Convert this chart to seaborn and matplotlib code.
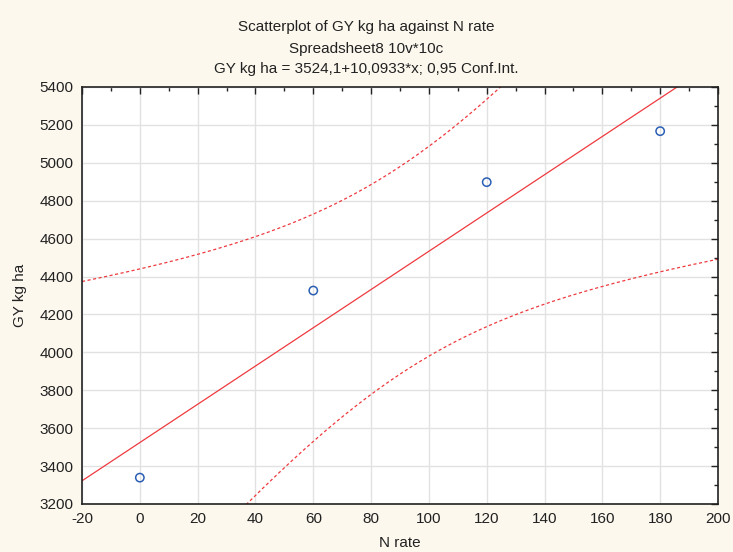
import numpy as np
import pandas as pd
import seaborn as sns
import matplotlib.pyplot as plt
from matplotlib.ticker import MultipleLocator

# Datos
n_rate = [0, 60, 120, 180]
gy_kg_ha = [3339, 4326, 4898, 5167]
x_ticks = [-20, 0, 20, 40, 60, 80, 100, 120, 140, 160, 180, 200]
y_ticks = [3200, 3400, 3600, 3800, 4000, 4200, 4400, 4600, 4800, 5000, 5200, 5400]
t_crit = 4.302653  # t(0.975, df=2)
titles = ["Scatterplot of GY kg ha against N rate",
          "Spreadsheet8 10v*10c",
          "GY kg ha = 3524,1+10,0933*x; 0,95 Conf.Int."]

df = pd.DataFrame({"N rate": n_rate, "GY kg ha": gy_kg_ha})

# Ajuste lineal y bandas de confianza
x = np.array(n_rate, dtype=float)
y = np.array(gy_kg_ha, dtype=float)
b, a = np.polyfit(x, y, 1)
resid = y - (a + b * x)
s = np.sqrt(np.sum(resid ** 2) / (len(x) - 2))
sxx = np.sum((x - x.mean()) ** 2)
xs = np.linspace(x_ticks[0], x_ticks[-1], 300)
fit = a + b * xs
se = s * np.sqrt(1 / len(x) + (xs - x.mean()) ** 2 / sxx)
bands = pd.DataFrame({"x": xs, "fit": fit, "lo": fit - t_crit * se, "hi": fit + t_crit * se})

sns.set_style("white")
plt.rcParams["font.family"] = ["Liberation Sans", "DejaVu Sans"]
plt.rcParams["font.size"] = 11
plt.rcParams["axes.unicode_minus"] = False

fig = plt.figure(figsize=(7.33, 5.52), dpi=100, facecolor="#fcf8ee")
ax = fig.add_axes([0.1119, 0.087, 0.8676, 0.7554])
ax.set_facecolor("white")

red = "#ee3a3f"
sns.lineplot(data=bands, x="x", y="fit", ax=ax, color=red, lw=0.9)
sns.lineplot(data=bands, x="x", y="lo", ax=ax, color=red, lw=0.9, linestyle=(0, (2.5, 2)))
sns.lineplot(data=bands, x="x", y="hi", ax=ax, color=red, lw=0.9, linestyle=(0, (2.5, 2)))
sns.scatterplot(data=df, x="N rate", y="GY kg ha", ax=ax, s=36, marker="o",
                facecolor="none", edgecolor="#2b5fb4", linewidth=1.1, zorder=5)

ax.set_xlim(x_ticks[0], x_ticks[-1])
ax.set_ylim(y_ticks[0], y_ticks[-1])
ax.set_xticks(x_ticks)
ax.set_yticks(y_ticks)
ax.xaxis.set_minor_locator(MultipleLocator(10))
ax.yaxis.set_minor_locator(MultipleLocator(100))
ax.grid(True, which="major", color="#e2e2e2", lw=1)
ax.set_axisbelow(True)
ax.tick_params(which="both", direction="in", top=True, right=True, color="#222222",
               labelsize=11, labelcolor="#222222")
ax.tick_params(which="major", length=5, width=1, pad=6)
ax.tick_params(which="minor", length=3, width=1)
for sp in ax.spines.values():
    sp.set_color("#222222")
    sp.set_linewidth(1.2)

ax.set_xlabel("N rate", fontsize=11, color="#222222", va="center")
ax.set_ylabel("GY kg ha", fontsize=11, color="#222222", va="center")
ax.xaxis.set_label_coords(0.5, -0.0935)
ax.yaxis.set_label_coords(-0.0975, 0.5)

for yy, t in zip([0.951, 0.911, 0.875], titles):
    fig.text(0.5, yy, t, ha="center", va="center", fontsize=11, color="#222222")

fig.savefig("out.png", dpi=100, facecolor=fig.get_facecolor())
